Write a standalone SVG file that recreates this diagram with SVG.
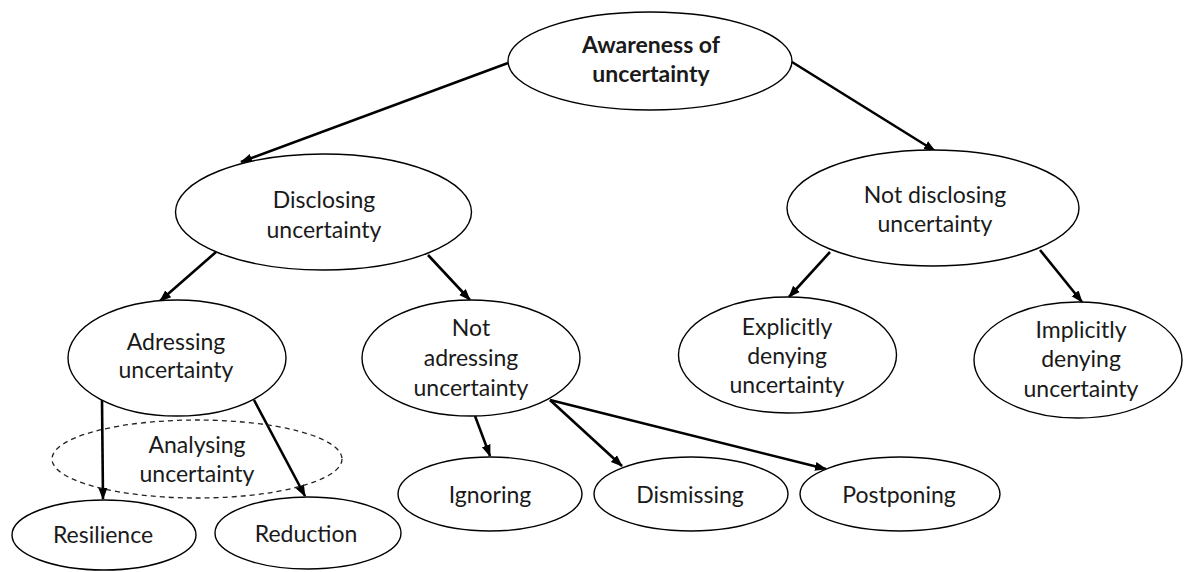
<svg xmlns="http://www.w3.org/2000/svg" width="1184" height="572" viewBox="0 0 1184 572">
<style>
.n{fill:#fff;stroke:#000;stroke-width:1.4}
.d{fill:none;stroke:#222;stroke-width:1.3;stroke-dasharray:5 4}
.t{font-family:Lato,"Open Sans","Liberation Sans",sans-serif;font-size:23px;fill:#1a1a1a;text-anchor:middle}
.b{font-weight:bold}
.e{stroke:#000;stroke-width:2.6;fill:none;marker-end:url(#ah)}
</style>
<defs>
<marker id="ah" markerUnits="userSpaceOnUse" markerWidth="12" markerHeight="12" viewBox="0 0 12 12" refX="11" refY="6" orient="auto">
<path d="M0,1.5 L12,6 L0,10.5 Z" fill="#000"/>
</marker>
</defs>
<g id="connectors">
<line class="e" x1="508" y1="63" x2="241" y2="162"/>
<line class="e" x1="792" y1="62" x2="935" y2="151"/>
<line class="e" x1="216" y1="252" x2="160" y2="301"/>
<line class="e" x1="428" y1="255" x2="470" y2="300"/>
<line class="e" x1="830" y1="252" x2="789" y2="297"/>
<line class="e" x1="1040" y1="250" x2="1082" y2="302"/>
<line class="e" x1="102" y1="400" x2="103" y2="499"/>
<line class="e" x1="254" y1="400" x2="305" y2="496"/>
<line class="e" x1="475" y1="416" x2="490" y2="456"/>
<line class="e" x1="550" y1="400" x2="622" y2="466"/>
<line class="e" x1="550" y1="400" x2="826" y2="469"/>
</g>
<g id="awareness">
<ellipse class="n" cx="650" cy="61" rx="142" ry="49"/>
<text class="t b" x="651" y="53">Awareness of</text>
<text class="t b" x="651" y="82">uncertainty</text>
</g>
<g id="disclosing">
<ellipse class="n" cx="323.5" cy="212" rx="148" ry="58"/>
<text class="t" x="324" y="208">Disclosing</text>
<text class="t" x="324" y="238">uncertainty</text>
</g>
<g id="not-disclosing">
<ellipse class="n" cx="933" cy="208" rx="146" ry="58"/>
<text class="t" x="935" y="203">Not disclosing</text>
<text class="t" x="935" y="232">uncertainty</text>
</g>
<g id="adressing">
<ellipse class="n" cx="177" cy="358" rx="109" ry="58"/>
<text class="t" x="176" y="350">Adressing</text>
<text class="t" x="176" y="378">uncertainty</text>
</g>
<g id="not-adressing">
<ellipse class="n" cx="471" cy="358" rx="109" ry="58"/>
<text class="t" x="471" y="336">Not</text>
<text class="t" x="471" y="366">adressing</text>
<text class="t" x="471" y="396">uncertainty</text>
</g>
<g id="explicitly">
<ellipse class="n" cx="787.5" cy="355" rx="109" ry="58"/>
<text class="t" x="787" y="335">Explicitly</text>
<text class="t" x="787" y="364">denying</text>
<text class="t" x="787" y="393">uncertainty</text>
</g>
<g id="implicitly">
<ellipse class="n" cx="1078" cy="360" rx="104" ry="58"/>
<text class="t" x="1081" y="338">Implicitly</text>
<text class="t" x="1081" y="367">denying</text>
<text class="t" x="1081" y="397">uncertainty</text>
</g>
<g id="analysing">
<ellipse class="d" cx="197" cy="459" rx="145" ry="39"/>
<text class="t" x="197" y="453">Analysing</text>
<text class="t" x="197" y="482">uncertainty</text>
</g>
<g id="resilience">
<ellipse class="n" cx="104" cy="535" rx="92" ry="35"/>
<text class="t" x="103" y="543">Resilience</text>
</g>
<g id="reduction">
<ellipse class="n" cx="308" cy="533" rx="93" ry="36"/>
<text class="t" x="306" y="542">Reduction</text>
</g>
<g id="ignoring">
<ellipse class="n" cx="490" cy="494" rx="92" ry="37"/>
<text class="t" x="490" y="503">Ignoring</text>
</g>
<g id="dismissing">
<ellipse class="n" cx="691" cy="494" rx="97" ry="37"/>
<text class="t" x="690" y="503">Dismissing</text>
</g>
<g id="postponing">
<ellipse class="n" cx="900" cy="494" rx="100" ry="37"/>
<text class="t" x="899" y="503">Postponing</text>
</g>
</svg>
